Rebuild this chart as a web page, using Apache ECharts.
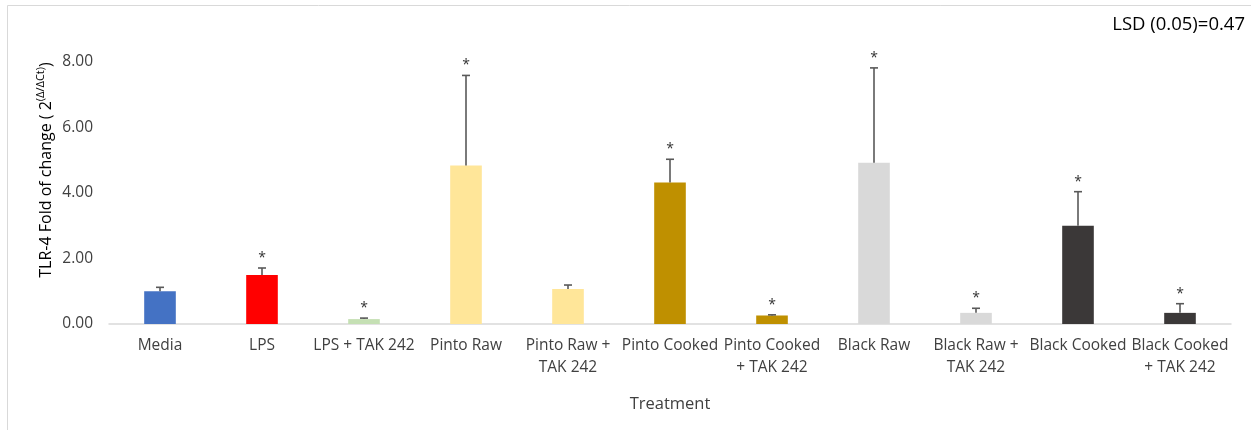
<!DOCTYPE html>
<html>
<head>
<meta charset="utf-8">
<script src="https://cdn.jsdelivr.net/npm/echarts@6/dist/echarts.min.js"></script>
<style>
  html, body { margin: 0; padding: 0; background: #fff; }
  #chart { width: 1251px; height: 430px; }
</style>
</head>
<body>
<div id="chart"></div>
<script>
// Treatments on the x axis
const categories = [
  'Media', 'LPS', 'LPS + TAK 242', 'Pinto Raw', 'Pinto Raw +\nTAK 242',
  'Pinto Cooked', 'Pinto Cooked\n+ TAK 242', 'Black Raw', 'Black Raw +\nTAK 242',
  'Black Cooked', 'Black Cooked\n+ TAK 242'
];
// Mean fold change (2^(Δ/ΔCt))
const foldChange = [1.00, 1.50, 0.15, 4.84, 1.07, 4.32, 0.26, 4.92, 0.34, 3.00, 0.34];
// Upper error (standard deviation)
const errorUp = [0.12, 0.21, 0.03, 2.75, 0.12, 0.71, 0.02, 2.90, 0.14, 1.04, 0.28];
// Significance marks (1 = significant vs. Media)
const significant = [0, 1, 1, 1, 0, 1, 1, 1, 1, 1, 1];
// Y axis tick settings
const yTicks = { min: 0, max: 8, interval: 2 };
const lsdText = 'LSD (0.05)=0.47';

const barColors = ['#4472C4', '#FF0000', '#C5E0B4', '#FFE699', '#FFE699',
  '#BF9000', '#BF9000', '#D9D9D9', '#D9D9D9', '#3B3838', '#3B3838'];

const font = 'Open Sans, Liberation Sans, Arial, sans-serif';
const chart = echarts.init(document.getElementById('chart'), null, { renderer: 'canvas' });

const errData = foldChange.map((v, i) => [i, v, errorUp[i], significant[i]]);

chart.setOption({
  animation: false,
  backgroundColor: '#fff',
  textStyle: { fontFamily: font },
  grid: { left: 109, right: 20, top: 62, bottom: 106 },
  graphic: [
    { type: 'rect', shape: { x: 7.5, y: 5.5, width: 1300, height: 440 },
      style: { fill: 'none', stroke: '#D9D9D9', lineWidth: 1 }, silent: true },
    { type: 'text', right: 6, top: 15,
      style: { text: lsdText, fontSize: 18.5, fill: '#000', fontFamily: font } },
    // Rotated y-axis title with superscript exponent
    { type: 'text', x: 46, y: 170, rotation: Math.PI / 2,
      style: {
        text: 'TLR-4 Fold of change ( 2{sup|(Δ/ΔCt)})',
        align: 'center', verticalAlign: 'middle',
        fontSize: 16, fill: '#000', fontFamily: font, lineHeight: 22,
        rich: {
          sup: { fontSize: 11, verticalAlign: 'top', lineHeight: 22, padding: [0, 0, 6, 0], fontFamily: font, fill: '#000' }
        }
      } }
  ],
  xAxis: {
    type: 'category',
    data: categories,
    axisLine: { lineStyle: { color: '#D9D9D9', width: 1.5 } },
    axisTick: { show: false },
    axisLabel: { interval: 0, color: '#404040', fontSize: 15.5, margin: 11, lineHeight: 22, fontFamily: font },
    name: 'Treatment',
    nameLocation: 'middle',
    nameGap: 72,
    nameTextStyle: { color: '#404040', fontSize: 16.5, fontFamily: font }
  },
  yAxis: {
    type: 'value',
    min: yTicks.min, max: yTicks.max, interval: yTicks.interval,
    splitLine: { show: false },
    axisLine: { show: false },
    axisTick: { show: false },
    axisLabel: { color: '#404040', fontSize: 15.5, margin: 16, fontFamily: font,
      formatter: v => v.toFixed(2) }
  },
  series: [
    {
      type: 'bar',
      barWidth: '31%',
      data: foldChange.map((v, i) => ({ value: v, itemStyle: { color: barColors[i] } })),
      z: 2
    },
    {
      type: 'custom',
      z: 3,
      data: errData,
      renderItem: (params, api) => {
        const i = api.value(0), v = api.value(1), e = api.value(2), s = api.value(3);
        const base = api.coord([i, v]);
        const top = api.coord([i, v + e]);
        const cap = 4;
        const stroke = { stroke: '#595959', lineWidth: 1.6 };
        const children = [
          { type: 'line', shape: { x1: base[0], y1: base[1], x2: top[0], y2: top[1] }, style: stroke },
          { type: 'line', shape: { x1: top[0] - cap, y1: top[1], x2: top[0] + cap, y2: top[1] }, style: stroke }
        ];
        if (s) {
          children.push({ type: 'text', x: top[0], y: top[1] - 3,
            style: { text: '*', fontSize: 14, fill: '#333', align: 'center', verticalAlign: 'bottom', fontFamily: font } });
        }
        return { type: 'group', children };
      }
    }
  ]
});
</script>
</body>
</html>
